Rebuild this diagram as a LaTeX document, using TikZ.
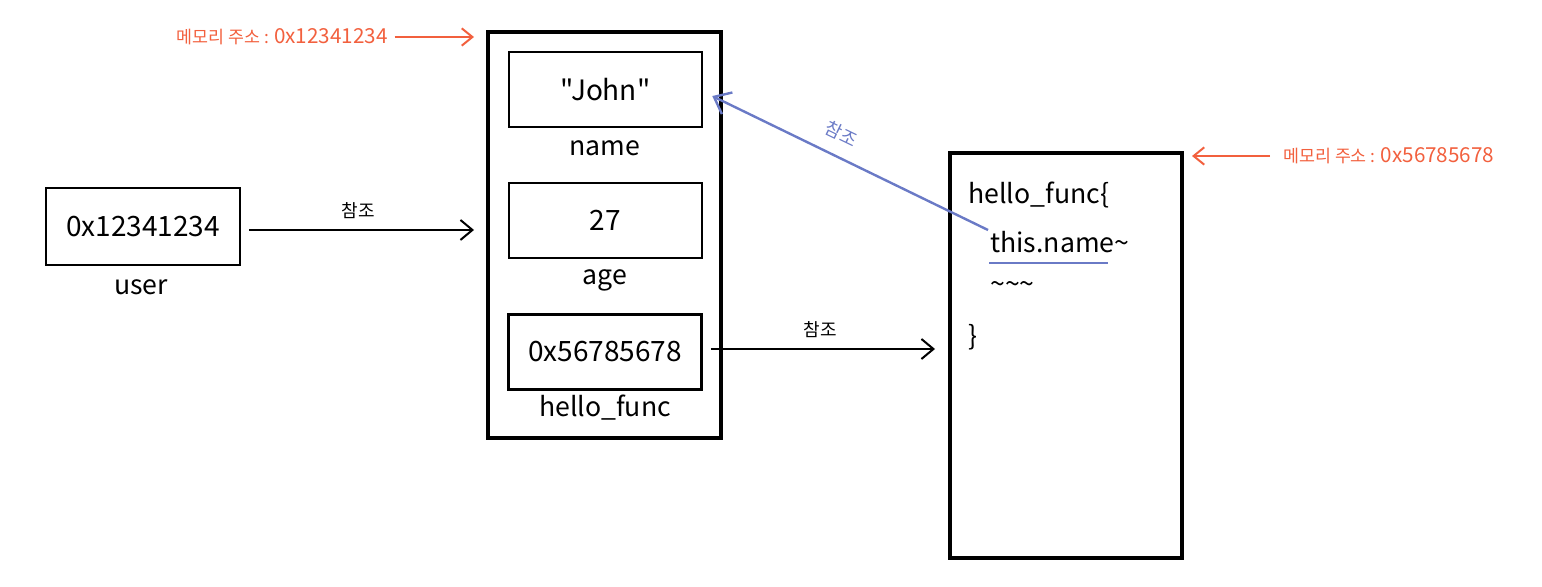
\documentclass[tikz,border=0pt]{standalone}
\usepackage{fontspec}
\setmainfont{Noto Sans CJK KR}
\newfontfamily\plainfont{Noto Sans CJK KR}
\usetikzlibrary{arrows.meta}
\definecolor{memorange}{HTML}{F2603E}
\definecolor{refblue}{HTML}{6A7AC6}
\begin{document}
\begin{tikzpicture}[x=0.75pt,y=-0.75pt,
  bigbox/.style={draw, line width=3pt, inner sep=0},
  cell/.style={draw, line width=1.9pt, minimum width=144.75pt, minimum height=56.25pt, inner sep=0, font=\fontsize{21}{24}\selectfont},
  lbl/.style={inner sep=0, font=\fontsize{20}{24}\selectfont},
  code/.style={inner sep=0, font=\fontsize{20}{24}\selectfont},
  refarrow/.style={line width=1.5pt, -{Straight Barb[length=9pt,width=15pt]}},
  reflabel/.style={inner sep=0, font=\fontsize{13.5}{16}\selectfont},
  memlabel/.style={inner sep=0, text=memorange, font=\fontsize{13}{16}\selectfont},
  memarrow/.style={draw=memorange, line width=1.5pt, -{Straight Barb[length=8pt,width=13pt]}}
]
\useasboundingbox (0,0) rectangle (1542,586);

% object
\node[bigbox, minimum width=174.75pt, minimum height=304.5pt] (obj) at (604.5,235) {};
\node[cell] (john) at (605.5,89.5) {{\plainfont "John"}};
\node[cell] (age) at (605.5,220.5) {27};
\node[cell] (hf) at (605,352) {0x56785678};
\node[lbl] (namel) at (605,148) {name};
\node[lbl] (agel) at (605,280) {age};
\node[lbl] (hfl) at (605,408) {hello\_func};

% user
\node[cell, line width=2.2pt, minimum width=145.5pt, minimum height=57.75pt] (user) at (143,226.5) {0x12341234};
\node[lbl] (userl) at (141,287) {user};

% function
\node[bigbox, minimum width=174pt, minimum height=303.75pt] (func) at (1066,355.5) {};
\node[code, anchor=base west] (c1) at (968,203) {hello\_func\{};
\node[code, anchor=base west] (thisname) at (990,252) {this.name\textasciitilde};
\node[code, anchor=west] (c3) at (990,287) {\textasciitilde\textasciitilde\textasciitilde};
\node[code, anchor=west] (c4) at (968,337) {\}};
\draw[refblue, line width=2.2pt] (989,263) -- (1108,263);

% blue reference
\coordinate (bstart) at (988,230);
\draw[refblue, line width=1.8pt, -{Straight Barb[length=11pt,width=18pt]}] (bstart) -- ([xshift=6.75pt,yshift=-4.9pt]john.east);
\node[reflabel, text=refblue, rotate=-25.8] (blbl) at (841,134) {참조};

% black references
\coordinate (ua) at ([yshift=-2.6pt]user.east);
\draw[refarrow, shorten <=6pt, shorten >=9pt] (ua) -- (ua -| obj.west);
\node[reflabel] (ulbl) at (358,211) {참조};
\coordinate (ha) at ([yshift=2.25pt]hf.east);
\draw[refarrow, shorten <=6pt, shorten >=9.75pt] (ha) -- (ha -| func.west);
\node[reflabel] (hlbl) at (820,330) {참조};

% memory addresses
\node[memlabel, anchor=east] (memtop) at (388,37) {메모리 주소 : {\fontsize{15.5}{18}\selectfont 0x12341234}};
\draw[memarrow, shorten <=5pt, shorten >=9pt] (memtop.east) -- (memtop.east -| obj.west);
\node[memlabel, anchor=west] (memright) at (1283,156) {메모리 주소 : {\fontsize{15.5}{18}\selectfont 0x56785678}};
\draw[memarrow, shorten <=9.75pt, shorten >=6pt] (memright.west) -- (memright.west -| func.east);
\end{tikzpicture}
\end{document}
